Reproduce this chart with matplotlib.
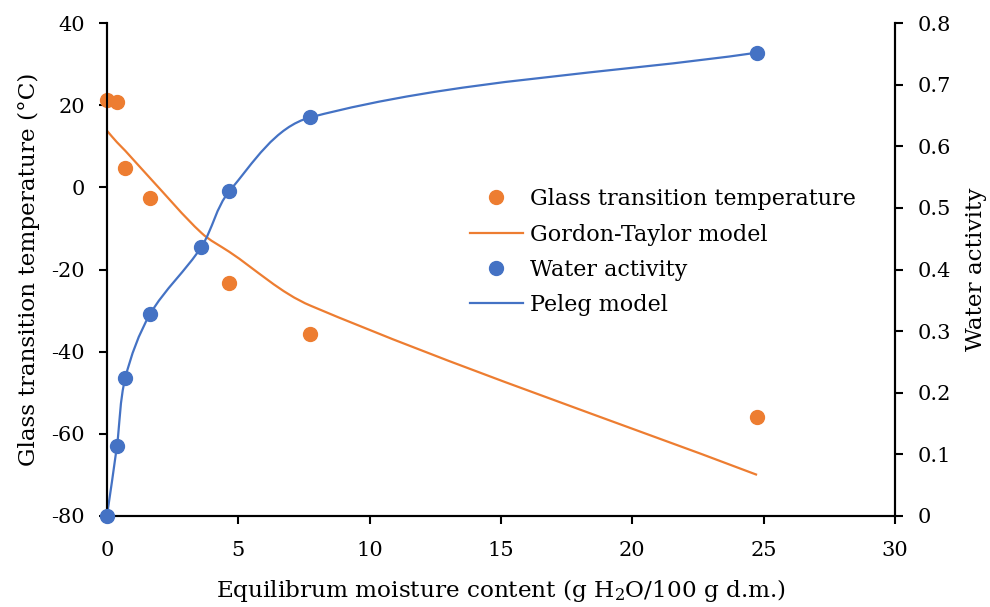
import numpy as np
import matplotlib.pyplot as plt
from matplotlib.path import Path
from matplotlib.patches import PathPatch

plt.rcParams['font.family'] = ['DejaVu Serif']
plt.rcParams['mathtext.fontset'] = 'dejavuserif'
plt.rcParams['axes.unicode_minus'] = False

# measured data
moisture = [0.0, 0.38, 0.7, 1.65, 3.6, 4.66, 7.75, 24.75]
tg = [21.2, 20.8, 4.6, -2.7, None, -23.2, -35.6, -55.9]
aw = [0.0, 0.113, 0.224, 0.328, 0.437, 0.527, 0.647, 0.752]

# model values at the same moisture contents
gt_model = [13.8, 11.0, 8.9, 2.2, -11.1, -15.7, -28.8, -70.0]
peleg_model = [0.0, 0.113, 0.224, 0.328, 0.437, 0.527, 0.647, 0.752]

orange = '#ED7D31'
blue = '#4472C4'


def smooth_line(ax, xs, ys, color):
    '''smoothed line through the points, bezier segments in display coords'''
    pts = ax.transData.transform(np.column_stack([xs, ys]))
    n = len(pts)
    verts = [pts[0]]
    codes = [Path.MOVETO]
    for i in range(n - 1):
        p0 = pts[i - 1] if i > 0 else pts[i]
        p1 = pts[i]
        p2 = pts[i + 1]
        p3 = pts[i + 2] if i + 2 < n else pts[i + 1]
        d = np.hypot(*(p2 - p1)) / 3.0
        t1 = p2 - p0
        t2 = p3 - p1
        c1 = p1 + t1 / np.hypot(*t1) * d
        c2 = p2 - t2 / np.hypot(*t2) * d
        verts += [c1, c2, p2]
        codes += [Path.CURVE4] * 3
    patch = PathPatch(Path(verts, codes), facecolor='none', edgecolor=color,
                      lw=1.6, transform=None)
    ax.add_artist(patch)
    line, = ax.plot([], [], '-', color=color, lw=1.6)
    return line


fig = plt.figure(figsize=(9.9, 6.07), dpi=100)
ax = fig.add_axes([0.108, 0.150, 0.796, 0.812])
ax2 = ax.twinx()

ax.set_xlim(0, 30)
ax.set_ylim(-80, 40)
ax2.set_ylim(0, 0.8)
ax2.set_position(ax.get_position())

tg_x = [x for x, y in zip(moisture, tg) if y is not None]
tg_v = [y for y in tg if y is not None]

l2 = smooth_line(ax, moisture, gt_model, orange)
l1, = ax.plot(tg_x, tg_v, 'o', color=orange, ms=10, clip_on=False, zorder=3)
l4 = smooth_line(ax2, moisture, peleg_model, blue)
l3, = ax2.plot(moisture, aw, 'o', color=blue, ms=10, clip_on=False, zorder=3)

ax.set_xticks(np.arange(0, 31, 5))
ax.set_yticks(np.arange(-80, 41, 20))
ax2.set_yticks(np.arange(0, 0.81, 0.1))
ax2.set_yticklabels(['0', '0.1', '0.2', '0.3', '0.4', '0.5', '0.6', '0.7', '0.8'])

for a in (ax, ax2):
    a.spines['top'].set_visible(False)
    for s in ('left', 'right', 'bottom'):
        a.spines[s].set_linewidth(1.5)
    a.tick_params(width=1.5, length=6, labelsize=15, pad=10)
ax.tick_params(axis='x', pad=12)

ax.set_xlabel('Equilibrum moisture content (g H$_2$O/100 g d.m.)', fontsize=16.7, labelpad=12)
ax.set_ylabel('Glass transition temperature (°C)', fontsize=16.7, labelpad=8)
ax2.set_ylabel('Water activity', fontsize=16.7, labelpad=10)

ax2.legend([l1, l2, l3, l4],
           ['Glass transition temperature', 'Gordon-Taylor model', 'Water activity', 'Peleg model'],
           loc='upper left', bbox_to_anchor=(0.449, 0.683), frameon=False, fontsize=16,
           handlelength=2.4, handletextpad=0.3, labelspacing=0.6, borderaxespad=0)

fig.savefig('out.png', dpi=100)
